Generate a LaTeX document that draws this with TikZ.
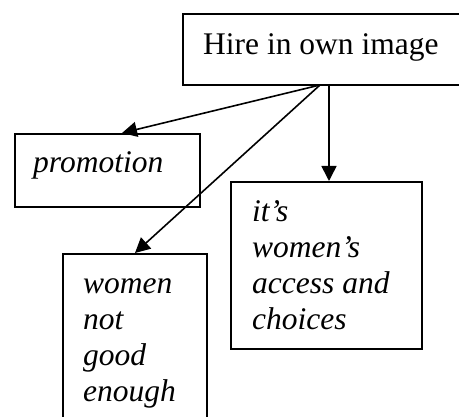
\documentclass[tikz,border=0pt]{standalone}
\usepackage{fontspec}
\setmainfont{Liberation Serif}
\usetikzlibrary{arrows.meta,calc}
\tikzset{
  x=1pt, y=-1pt,
  box/.style={draw, line width=1.9pt, inner sep=0pt},
  lbl/.style={anchor=base west, inner sep=0pt, font=\fontsize{31.5}{36}\selectfont, align=left},
  link/.style={line width=1.6pt, -{Triangle[length=15pt,width=15pt]}}
}
\begin{document}
\begin{tikzpicture}
\useasboundingbox (0,0) rectangle (459,417);
\clip (0,0) rectangle (459,417);
% boxes
\node[box, minimum width=300pt, minimum height=71pt, anchor=north west] (hire) at (182,13) {};
\node[box, minimum width=185pt, minimum height=73pt, anchor=north west] (promo) at (14,133) {};
\node[box, minimum width=191pt, minimum height=167pt, anchor=north west] (access) at (230,181) {};
\node[box, minimum width=144pt, minimum height=200pt, anchor=north west] (notgood) at (62,253) {};
% texts (multi-line labels are placed by the baseline of their last line)
\node[lbl] (hiret) at (203,55) {Hire in own image};
\node[lbl] (promot) at (33,173) {\itshape promotion};
\node[lbl] (accesst) at (252,330) {\itshape it’s\\\itshape women’s\\\itshape access and\\\itshape choices};
\node[lbl] (notgoodt) at (83,402) {\itshape women\\\itshape not\\\itshape good\\\itshape enough};
% connectors
\coordinate (hub) at (320,85);
\coordinate (hubv) at (329,84);
\draw[link] (hub) -- ([xshift=108pt]promo.north west);
\draw[link] (hubv) -- ([xshift=99pt]access.north west);
\draw[link] (hub) -- ([xshift=73pt]notgood.north west);
\end{tikzpicture}
\end{document}
